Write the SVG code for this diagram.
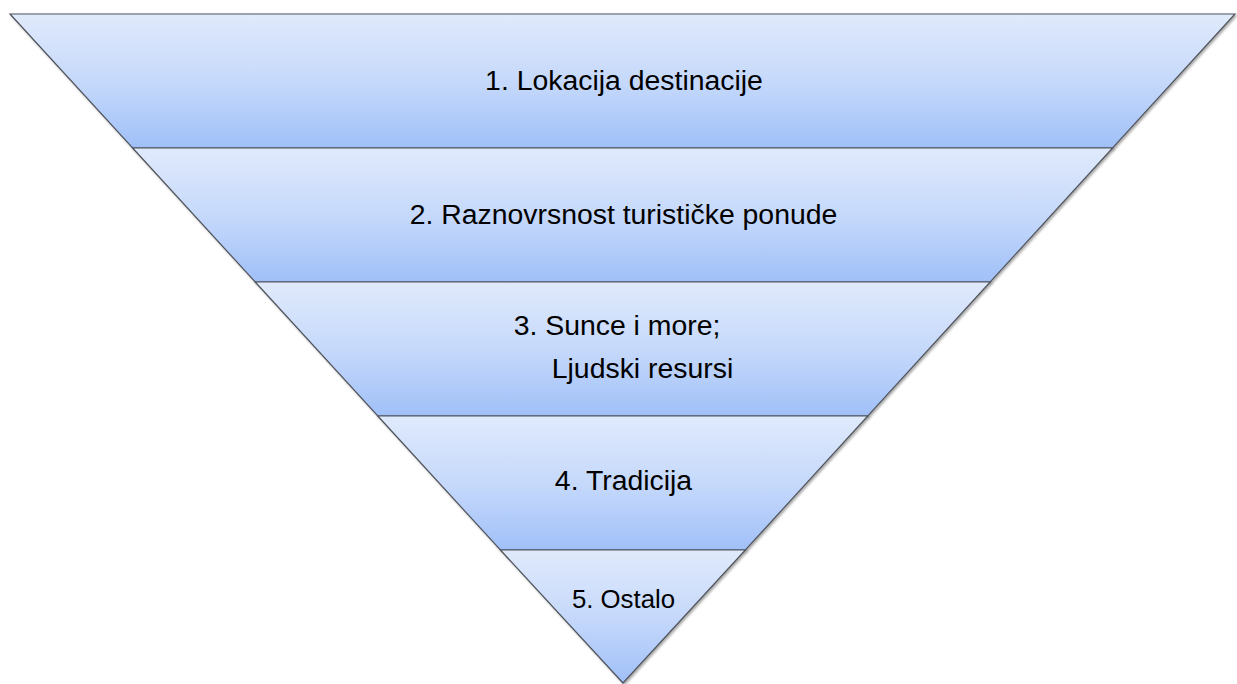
<svg xmlns="http://www.w3.org/2000/svg" width="1237" height="684" viewBox="0 0 1237 684">
  <defs>
    <linearGradient id="bandFill" x1="0" y1="0" x2="0" y2="1">
      <stop offset="0" stop-color="#e0eafc"/>
      <stop offset="0.5" stop-color="#c6d9fb"/>
      <stop offset="1" stop-color="#a0c0f8"/>
    </linearGradient>
    <filter id="shadow" x="-5%" y="-5%" width="110%" height="115%">
      <feDropShadow dx="1.5" dy="1.5" stdDeviation="1.2" flood-color="#000" flood-opacity="0.35"/>
    </filter>
  </defs>
  <style>
    .band { fill: url(#bandFill); stroke: #50545c; stroke-width: 1.2; filter: url(#shadow); }
    .label { font-family: "Liberation Sans", Arial, sans-serif; font-size: 28.4px; fill: #000; text-anchor: middle; }
  </style>
  <rect width="1237" height="684" fill="#ffffff"/>
  <g id="band1">
    <polygon class="band" points="10,14 1235,14 1112.6,148 132.6,148"/>
    <text class="label" x="624" y="90">1. Lokacija destinacije</text>
  </g>
  <g id="band2">
    <polygon class="band" points="132.6,148 1112.6,148 990.2,282 255.2,282"/>
    <text class="label" x="623.5" y="224">2. Raznovrsnost turističke ponude</text>
  </g>
  <g id="band3">
    <polygon class="band" points="255.2,282 990.2,282 867.8,416 377.8,416"/>
    <text class="label" x="617" y="335">3. Sunce i more;</text>
    <text class="label" x="642.5" y="378">Ljudski resursi</text>
  </g>
  <g id="band4">
    <polygon class="band" points="377.8,416 867.8,416 745.4,550 500.4,550"/>
    <text class="label" x="623.5" y="490">4. Tradicija</text>
  </g>
  <g id="band5">
    <polygon class="band" points="500.4,550 745.4,550 623,683"/>
    <text class="label" x="623.5" y="608" style="font-size:25.8px">5. Ostalo</text>
  </g>
  <g id="connectors"></g>
</svg>
